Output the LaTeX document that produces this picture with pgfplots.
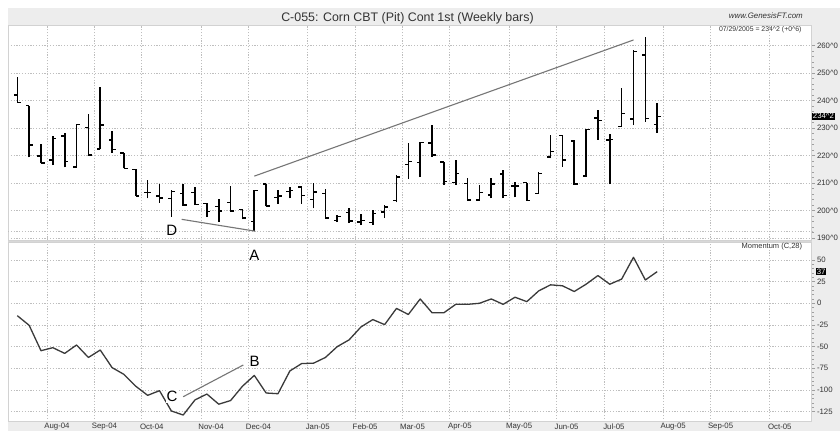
\documentclass[border=0pt]{standalone}
\usepackage{fontspec}
\setmainfont{Liberation Sans}
\usepackage{pgfplots}
\pgfplotsset{compat=1.18}
\usepackage{pgfplotstable}

\definecolor{panelgray}{HTML}{EDEDED}
\definecolor{sepgray}{HTML}{D8D8D8}
\definecolor{gridc}{HTML}{BEBEBE}
\definecolor{annot}{HTML}{767676}
\definecolor{momc}{HTML}{3A3A3A}
\definecolor{txt}{HTML}{333333}

\pgfplotstableread{
i O H L C
0 242.0 248.7 239.2 239.2
1 238.1 238.1 219.3 223.8
2 219.8 224.2 217.1 217.2
3 218.4 227.1 216.5 226.2
4 227.1 228.1 215.7 217.8
5 215.9 231.3 215.7 231.3
6 230.2 235.1 220.2 220.2
7 222.4 244.8 222.4 231.1
8 225.6 228.9 221.0 222.2
9 221.0 221.0 215.3 215.3
10 215.0 215.0 205.3 205.3
11 206.5 211.1 204.4 206.5
12 205.2 209.6 202.9 204.5
13 204.4 207.5 197.8 207.0
14 206.2 209.6 201.8 202.0
15 206.5 208.7 202.0 202.2
16 202.6 202.8 197.6 199.6
17 201.5 204.1 196.0 199.8
18 203.0 208.9 199.6 199.8
19 200.4 200.4 196.8 197.2
20 196.0 207.6 192.6 207.3
21 209.7 209.8 201.5 201.7
22 204.8 207.5 202.4 205.2
23 207.0 208.4 204.4 207.3
24 208.6 209.0 202.4 205.4
25 204.0 210.0 200.8 206.8
26 206.2 207.7 197.2 197.3
27 196.4 198.4 195.8 197.8
28 199.2 200.8 195.4 196.2
29 195.8 198.6 194.7 196.3
30 195.6 200.2 194.7 199.0
31 199.5 202.0 197.2 201.3
32 203.6 212.8 203.0 212.2
33 216.8 224.4 211.4 217.8
34 217.5 225.0 212.1 224.8
35 224.5 231.1 219.6 220.2
36 217.7 217.8 209.4 210.5
37 210.2 218.4 209.3 213.5
38 209.9 211.7 203.6 203.9
39 203.8 209.3 203.6 206.5
40 205.6 211.7 204.4 209.6
41 213.3 214.7 204.4 205.4
42 209.0 210.5 204.8 209.0
43 210.1 210.1 203.6 203.6
44 206.2 214.1 206.2 213.5
45 219.5 227.5 219.0 221.4
46 227.3 227.5 216.0 218.4
47 225.3 225.6 209.3 209.7
48 212.5 229.5 212.3 229.5
49 233.6 236.6 225.8 232.8
50 225.6 227.9 209.6 225.9
51 230.6 244.5 230.3 235.2
52 233.2 258.5 231.0 257.8
53 256.5 263.0 232.3 233.5
54 231.3 239.0 228.2 234.25
}\ohlc

\pgfplotstableread{
i M
0 -14.3
1 -25.4
2 -54.7
3 -51.2
4 -57.8
5 -48.1
6 -62.5
7 -53.9
8 -74.2
9 -82.0
10 -95.7
11 -106.2
12 -100.8
13 -124.2
14 -128.9
15 -111.4
16 -104.7
17 -116.4
18 -112.2
19 -95.7
20 -83.2
21 -103.5
22 -104.3
23 -78.1
24 -69.5
25 -69.1
26 -62.5
27 -50.0
28 -42.2
29 -27.3
30 -18.8
31 -24.6
32 -5.9
33 -12.9
34 5.0
35 -10.9
36 -10.9
37 -1.2
38 -1.2
39 0.0
40 5.0
41 -1.2
42 7.0
43 1.9
44 14.3
45 21.3
46 20.2
47 13.6
48 22.0
49 32.0
50 22.0
51 27.9
52 53.1
53 26.9
54 36.5
}\momtab

\pgfplotsset{
  chartbase/.style={
    scale only axis, width=803.7pt, clip mode=individual,
    xmin=-0.785, xmax=67.04,
    axis line style={gray!35, line width=0.6pt},
    xtick={2.5,6.5,10.5,15.5,19.5,24.5,28.5,32.5,36.5,41.5,45.5,49.5,54.5,58.5,63.5},
    xticklabels={},
    x tick style={draw=none},
    ytick pos=right, yticklabel pos=right,
    tick align=outside,
    major tick length=3.5pt, minor tick length=2pt,
    y tick style={gray!75, line width=0.5pt},
    minor y tick num=4,
    grid=major,
    grid style={gridc, line width=0.7pt, dash pattern=on 1.2pt off 1.6pt},
    yticklabel style={anchor=west, inner sep=1.6pt, text=txt, font=\fontsize{7.8}{8}\selectfont},
    xticklabel style={anchor=center, yshift=-5.0pt, text=txt, font=\fontsize{7.8}{8}\selectfont},
  },
  ohlcbar/.style={draw=none, no markers, forget plot,
    error bars/error mark=none,
    error bars/error bar style={draw=black, line width=#1}},
}

\begin{document}
\begin{tikzpicture}
\useasboundingbox (0pt,0pt) rectangle (840pt,431pt);
\fill[white] (0pt,0pt) rectangle (840pt,431pt);
\fill[panelgray] (8pt,406pt) rectangle (840pt,423pt);
\fill[panelgray] (811.7pt,0pt) rectangle (840pt,406pt);
\fill[panelgray] (8pt,0pt) rectangle (840pt,9.3pt);
\fill[sepgray] (8pt,188.3pt) rectangle (811.7pt,190.5pt);

\node[anchor=base, text=txt, font=\fontsize{12.4}{13}\selectfont] at (407.5pt,409.3pt) {C-055: Corn CBT (Pit) Cont 1st (Weekly bars)};
\node[anchor=base east, inner sep=0pt, text=txt, font=\fontsize{7.9}{8}\selectfont\itshape] at (803pt,412.3pt) {www.GenesisFT.com};
\node[anchor=base east, inner sep=0pt, text=txt, font=\fontsize{6.9}{7}\selectfont] at (801.7pt,399.5pt) {07/29/2005 = 234\textasciicircum2 (+0\textasciicircum6)};

% ---------- momentum panel ----------
\begin{axis}[chartbase,
  at={(8pt,9.3pt)}, anchor=south west, height=179pt,
  ymin=-136.6, ymax=69.9,
  ytick={-125,-100,-75,-50,-25,0,25,50},
  yticklabels={-125,-100,-75,-50,-25,0,25,50},
  extra x ticks={3.35,7.35,11.35,16.35,20.35,25.35,29.35,33.35,37.35,42.35,46.35,50.35,55.35,59.35,64.35},
  extra x tick labels={Aug-04,Sep-04,Oct-04,Nov-04,Dec-04,Jan-05,Feb-05,Mar-05,Apr-05,May-05,Jun-05,Jul-05,Aug-05,Sep-05,Oct-05},
  extra x tick style={grid=none, major tick length=0pt},
]
\addplot[momc, line width=1.3pt, line join=round, forget plot] table[x=i, y=M] {\momtab};
\addplot[annot, line width=1.1pt, forget plot] coordinates {(14.0,-107.8) (19.07,-71.2)};
\node[font=\fontsize{15}{15}\selectfont, inner sep=0pt] at (axis cs:20.0,54.8) {A};
\node[font=\fontsize{15}{15}\selectfont, inner sep=0pt] at (axis cs:20.03,-67.4) {B};
\node[font=\fontsize{15}{15}\selectfont, fill=white, inner sep=1pt] at (axis cs:13.05,-107.3) {C};
\node[anchor=base east, inner sep=0pt, text=txt, font=\fontsize{7.5}{8}\selectfont] at (axis cs:66.25,63.0) {Momentum (C,28)};
\node[anchor=west, xshift=4.3pt, fill=black, text=white, inner sep=0.6pt, font=\fontsize{7.8}{8}\selectfont] at (axis cs:67.04,36.5) {37};
\end{axis}

% ---------- price panel ----------
\begin{axis}[chartbase,
  at={(8pt,190.5pt)}, anchor=south west, height=215.5pt,
  ymin=189.1, ymax=267.45,
  ytick={190,200,210,220,230,240,250,260},
  yticklabels={190\textasciicircum0,200\textasciicircum0,210\textasciicircum0,220\textasciicircum0,230\textasciicircum0,240\textasciicircum0,250\textasciicircum0,260\textasciicircum0},
  extra y ticks={192.5}, extra y tick labels={},
  extra y tick style={grid=major, major tick length=0pt},
]
% high-low
\addplot[ohlcbar=1.6pt, error bars/y dir=plus, error bars/y explicit]
  table[x=i, y=L, y error expr=\thisrow{H}-\thisrow{L}] {\ohlc};
% open ticks
\addplot[ohlcbar=1.5pt, error bars/x dir=minus, error bars/x fixed=0.3]
  table[x=i, y=O] {\ohlc};
% close ticks
\addplot[ohlcbar=1.5pt, error bars/x dir=plus, error bars/x fixed=0.3]
  table[x=i, y=C] {\ohlc};
% trend lines
\addplot[annot, line width=1.1pt, forget plot] coordinates {(20.0,212.5) (52.0,262.0)};
\addplot[annot, line width=1.1pt, forget plot] coordinates {(13.87,196.8) (20.06,192.5)};
\node[font=\fontsize{15}{15}\selectfont, inner sep=0pt] at (axis cs:13.04,192.9) {D};
\node[anchor=west, fill=black, text=white, inner sep=1pt, font=\fontsize{7.8}{8}\selectfont] at (axis cs:67.04,234.25) {234\textasciicircum2};
\end{axis}
\end{tikzpicture}
\end{document}
